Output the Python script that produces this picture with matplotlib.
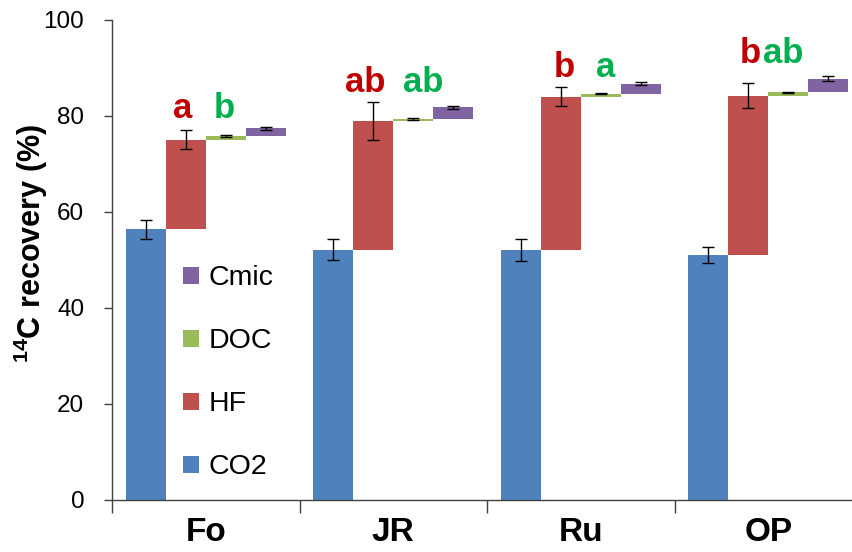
import matplotlib
matplotlib.use("Agg")
import matplotlib.pyplot as plt
from matplotlib.patches import Patch
import numpy as np

plt.rcParams['font.family'] = ['Liberation Sans', 'DejaVu Sans']
plt.rcParams['mathtext.fontset'] = 'custom'
plt.rcParams['mathtext.rm'] = 'Liberation Sans:bold'
plt.rcParams['mathtext.bf'] = 'Liberation Sans:bold'

# Sites and 14C pools (% of applied 14C)
sites = ['Fo', 'JR', 'Ru', 'OP']
pools = ['CO2', 'HF', 'DOC', 'Cmic']

co2 = [56.4, 52.1, 52.1, 51.0]
co2_err = [2.0, 2.2, 2.3, 1.7]
hf = [18.7, 26.9, 31.9, 33.2]
hf_err = [1.9, 4.0, 2.0, 2.6]
doc = [0.8, 0.4, 0.6, 0.7]
doc_err = [0.2, 0.2, 0.1, 0.15]
cmic = [1.5, 2.4, 2.1, 2.9]
cmic_err = [0.4, 0.35, 0.3, 0.6]

# Significance letters for HF and DOC
hf_letters = ['a', 'ab', 'b', 'b']
doc_letters = ['b', 'ab', 'a', 'ab']

colors = {'CO2': '#4F81BD', 'HF': '#C0504D', 'DOC': '#9BBB59', 'Cmic': '#8064A2'}
red_txt = '#C00000'
green_txt = '#00B050'
axis_col = '#404040'

fig = plt.figure(figsize=(8.53, 5.52), dpi=100)
ax = fig.add_axes([112 / 853, 52 / 552, 750 / 853, 480 / 552])

x = np.arange(len(sites))
w = 0.213
offsets = [-1.5 * w, -0.5 * w, 0.5 * w, 1.5 * w]

values = [co2, hf, doc, cmic]
errors = [co2_err, hf_err, doc_err, cmic_err]
bottom = np.zeros(len(sites))
for pool, vals, errs, off in zip(pools, values, errors, offsets):
    vals = np.array(vals)
    ax.bar(x + off, vals, width=w, bottom=bottom, color=colors[pool],
           edgecolor='none', label=pool, yerr=errs,
           error_kw=dict(ecolor='black', elinewidth=1.0, capsize=4.5,
                         capthick=1.0, zorder=3))
    bottom = bottom + vals

# Letters above the HF and DOC bars
label_base = [79.6, 85.0, 88.2, 91.0]
px = 1 / 187.5
red_shift = [-3, -8, 4, 2]
green_shift = [-1, 10, 5, -5]
for i in range(len(sites)):
    ax.text(x[i] + offsets[1] + red_shift[i] * px, label_base[i], hf_letters[i],
            color=red_txt, fontsize=25, fontweight='bold',
            ha='center', va='baseline')
    ax.text(x[i] + offsets[2] + green_shift[i] * px, label_base[i], doc_letters[i],
            color=green_txt, fontsize=25, fontweight='bold',
            ha='center', va='baseline')

ax.set_xlim(-0.5, 3.5)
ax.set_ylim(0, 100)
ax.set_yticks([0, 20, 40, 60, 80, 100])
ax.tick_params(axis='y', labelsize=17.5, length=6, width=1, color=axis_col,
               pad=14)

# Category boundaries as major ticks, names centred as minor ticks
ax.set_xticks(np.arange(-0.5, 4.0, 1.0))
ax.set_xticklabels([])
ax.set_xticks(x, minor=True)
ax.set_xticklabels(sites, minor=True, fontsize=24, fontweight='bold',
                   family=['Liberation Sans Narrow', 'Liberation Sans'])
ax.tick_params(axis='x', which='major', length=9, width=1, color=axis_col)
ax.tick_params(axis='x', which='minor', length=0, pad=12)

for s in ['top', 'right']:
    ax.spines[s].set_visible(False)
for s in ['left', 'bottom']:
    ax.spines[s].set_color(axis_col)
    ax.spines[s].set_linewidth(1.0)

ax.set_ylabel(r'$^{14}$C recovery (%)', fontsize=22, fontweight='bold')
ax.yaxis.set_label_coords(-0.083, 0.535)

handles = [Patch(facecolor=colors[p], edgecolor='none') for p in pools][::-1]
ax.legend(handles, pools[::-1], loc='center left',
          bbox_to_anchor=(0.095, 0.265), frameon=False, fontsize=20.5,
          handlelength=0.55, handleheight=0.55, handletextpad=0.35,
          labelspacing=1.3, borderpad=0, borderaxespad=0)

fig.savefig('out.png', dpi=100)
